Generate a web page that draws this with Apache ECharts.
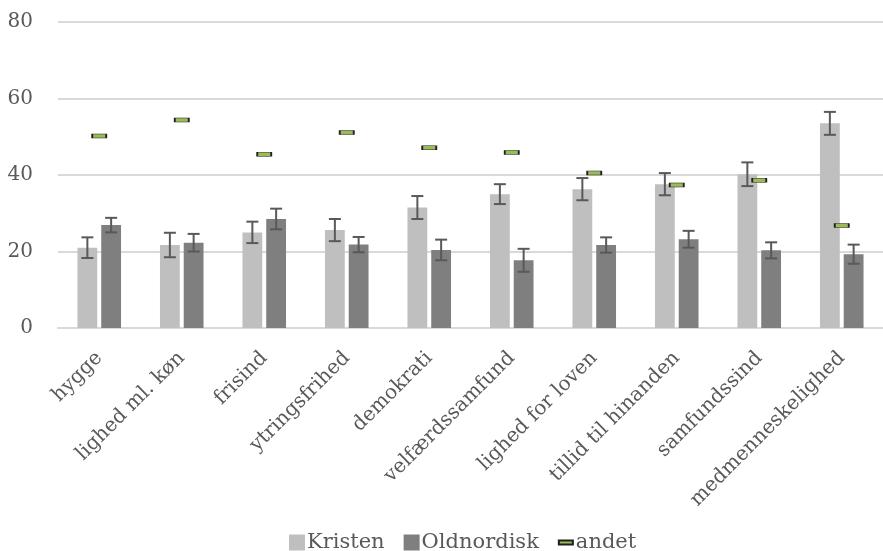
<!DOCTYPE html>
<html>
<head>
<meta charset="utf-8">
<script src="https://cdn.jsdelivr.net/npm/echarts@6/dist/echarts.min.js"></script>
<style>
html,body{margin:0;padding:0;background:#fff;}
#chart{width:883px;height:551px;}
</style>
</head>
<body>
<div id="chart"></div>
<script>
const categories = ['hygge','lighed ml. køn','frisind','ytringsfrihed','demokrati','velfærdssamfund','lighed for loven','tillid til hinanden','samfundssind','medmenneskelighed'];
const kristen = [21.0, 21.7, 25.0, 25.6, 31.5, 35.0, 36.3, 37.6, 40.2, 53.5];
const kristenErr = [2.7, 3.2, 2.8, 2.9, 3.0, 2.6, 2.9, 2.9, 3.1, 3.0];
const oldnordisk = [26.9, 22.3, 28.5, 21.8, 20.4, 17.7, 21.7, 23.2, 20.3, 19.3];
const oldnordiskErr = [1.9, 2.3, 2.7, 2.0, 2.7, 3.0, 2.0, 2.2, 2.1, 2.5];
const andet = [50.2, 54.4, 45.4, 51.1, 47.1, 45.9, 40.5, 37.4, 38.6, 26.8];
const seriesNames = ['Kristen', 'Oldnordisk', 'andet'];

const FONT = "'DejaVu Serif', serif";
const TXT = '#595959';
const BAR_W = 0.24, BAR_GAP = 0.2;
const pairOffset = (BAR_W + BAR_W * BAR_GAP) / 2;

function errData(vals, errs) {
  return vals.map((v, i) => [i, v - errs[i], v + errs[i]]);
}
function errRender(sign) {
  return function (params, api) {
    const idx = api.value(0);
    const lo = api.coord([idx, api.value(1)]);
    const hi = api.coord([idx, api.value(2)]);
    const w = api.size([1, 0])[0];
    const x = lo[0] + sign * pairOffset * w;
    const cap = 6;
    const style = { stroke: '#595959', lineWidth: 2 };
    return {
      type: 'group',
      children: [
        { type: 'line', shape: { x1: x, y1: lo[1], x2: x, y2: hi[1] }, style },
        { type: 'line', shape: { x1: x - cap, y1: lo[1], x2: x + cap, y2: lo[1] }, style },
        { type: 'line', shape: { x1: x - cap, y1: hi[1], x2: x + cap, y2: hi[1] }, style }
      ]
    };
  };
}

const chart = echarts.init(document.getElementById('chart'), null, { renderer: 'canvas' });
chart.setOption({
  animation: false,
  backgroundColor: '#ffffff',
  textStyle: { fontFamily: FONT },
  grid: { left: 58, top: 22, width: 832, height: 306, containLabel: false },
  legend: {
    top: 527,
    left: 284,
    itemWidth: 16,
    itemHeight: 16,
    itemGap: 19,
    textStyle: { fontFamily: FONT, fontSize: 21, color: TXT, padding: [0, 0, 0, -3] },
    data: [
      { name: seriesNames[0], icon: 'rect' },
      { name: seriesNames[1], icon: 'rect' },
      { name: seriesNames[2], icon: 'path://M0,0 M0,6 L14,6 L14,10 L0,10 Z M14,16' }
    ]
  },
  xAxis: {
    type: 'category',
    data: categories,
    axisLine: { show: true, lineStyle: { color: '#d9d9d9', width: 2 } },
    axisTick: { show: false },
    axisLabel: { rotate: 45, interval: 0, margin: 27, fontFamily: FONT, fontSize: 20, color: TXT }
  },
  yAxis: {
    type: 'value',
    min: 0, max: 80, interval: 20,
    axisLine: { show: false },
    axisTick: { show: false },
    splitLine: { lineStyle: { color: '#d9d9d9', width: 2 } },
    axisLabel: { margin: 25, fontFamily: FONT, fontSize: 20, color: TXT }
  },
  series: [
    {
      name: seriesNames[0], type: 'bar', data: kristen,
      barWidth: (BAR_W * 100) + '%', barGap: (BAR_GAP * 100) + '%',
      itemStyle: { color: '#bfbfbf' }
    },
    {
      name: seriesNames[1], type: 'bar', data: oldnordisk,
      barWidth: (BAR_W * 100) + '%', barGap: (BAR_GAP * 100) + '%',
      itemStyle: { color: '#7f7f7f' }
    },
    {
      name: 'errK', type: 'custom', data: errData(kristen, kristenErr),
      encode: { x: 0, y: [1, 2] }, renderItem: errRender(-1), z: 5
    },
    {
      name: 'errO', type: 'custom', data: errData(oldnordisk, oldnordiskErr),
      encode: { x: 0, y: [1, 2] }, renderItem: errRender(1), z: 5
    },
    {
      name: seriesNames[2], type: 'scatter', data: andet,
      symbol: 'rect', symbolSize: [14, 4], z: 6,
      itemStyle: { color: '#9bbb59', borderColor: '#1e1e1e', borderWidth: 1, opacity: 1 }
    }
  ]
});
</script>
</body>
</html>
